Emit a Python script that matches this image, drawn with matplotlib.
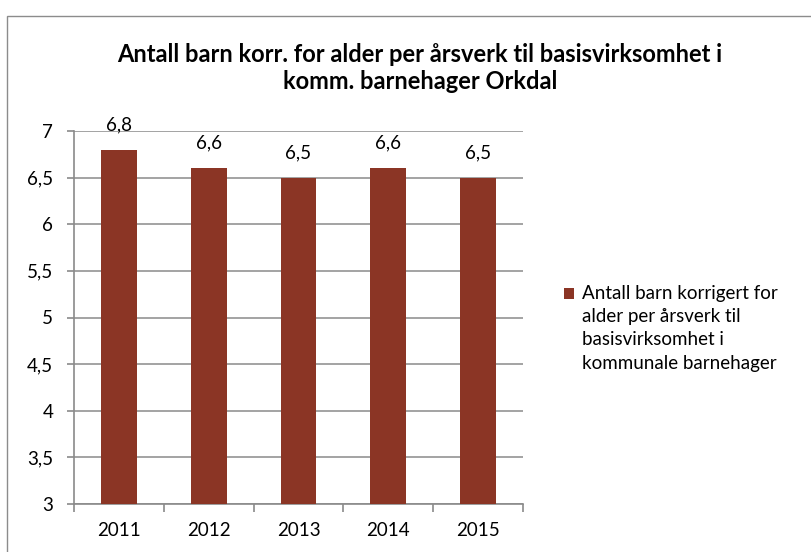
import matplotlib.pyplot as plt
from matplotlib.patches import Rectangle

years = ['2011', '2012', '2013', '2014', '2015']
values = [6.8, 6.6, 6.5, 6.6, 6.5]
y_ticks = [3, 3.5, 4, 4.5, 5, 5.5, 6, 6.5, 7]
title = 'Antall barn korr. for alder per årsverk til basisvirksomhet i\nkomm. barnehager Orkdal'
series_lines = ['Antall barn korrigert for', 'alder per årsverk til',
                'basisvirksomhet i', 'kommunale barnehager']

plt.rcParams['font.family'] = ['Lato', 'DejaVu Sans']
bar_color = '#8B3525'
grid_color = '#8a8a8a'

fig = plt.figure(figsize=(8.12, 5.52), dpi=100)
W, H = 812, 552
# plottområde i piksler: x 74..523, y 131..504
ax = fig.add_axes([74 / W, 1 - 504 / H, (523 - 74) / W, (504 - 131) / H])

# ytre ramme
fig.patches.append(Rectangle((7 / W, -0.05), 1.0, 1 - 16 / H + 0.05, transform=fig.transFigure,
                             fill=False, edgecolor='#8c8c8c', linewidth=1.0))

x = range(len(years))
ax.bar(x, values, width=0.4, color=bar_color, zorder=3)
for xi, v in zip(x, values):
    ax.annotate(f'{v:.1f}'.replace('.', ','), (xi, v), xytext=(0, 12), textcoords='offset points',
                ha='center', va='bottom', fontsize=13.5)

ax.set_xlim(-0.5, len(years) - 0.5)
ax.set_ylim(3, 7)
ax.set_yticks(y_ticks)
ax.set_yticklabels([f'{t:g}'.replace('.', ',') for t in y_ticks], fontsize=13.5)
ax.set_xticks([i - 0.5 for i in range(len(years) + 1)])
ax.set_xticklabels([])
ax.set_xticks(list(x), minor=True)
ax.set_xticklabels(years, minor=True, fontsize=13.5)
ax.tick_params(axis='x', which='minor', length=0, pad=13)
ax.tick_params(axis='x', which='major', length=6, color=grid_color, width=1.2, direction='out')
ax.tick_params(axis='y', length=5, color=grid_color, width=1.2, pad=10)
ax.yaxis.grid(True, color=grid_color, linewidth=1.1, zorder=0)
for s in ['top', 'right']:
    ax.spines[s].set_visible(False)
for s in ['left', 'bottom']:
    ax.spines[s].set_color(grid_color)
    ax.spines[s].set_linewidth(1.2)

fig.text(420 / W, 1 - 68 / H, title, ha='center', va='center', fontsize=17,
         fontweight='bold', linespacing=1.2)

# forklaring
fig.patches.append(Rectangle((564 / W, 1 - 299 / H), 10 / W, 11 / H, transform=fig.transFigure,
                             facecolor=bar_color, edgecolor='none'))
for i, line in enumerate(series_lines):
    fig.text(582 / W, 1 - (293 + i * 23.4) / H, line, ha='left', va='center', fontsize=13.5)

fig.savefig('out.png', dpi=100)
